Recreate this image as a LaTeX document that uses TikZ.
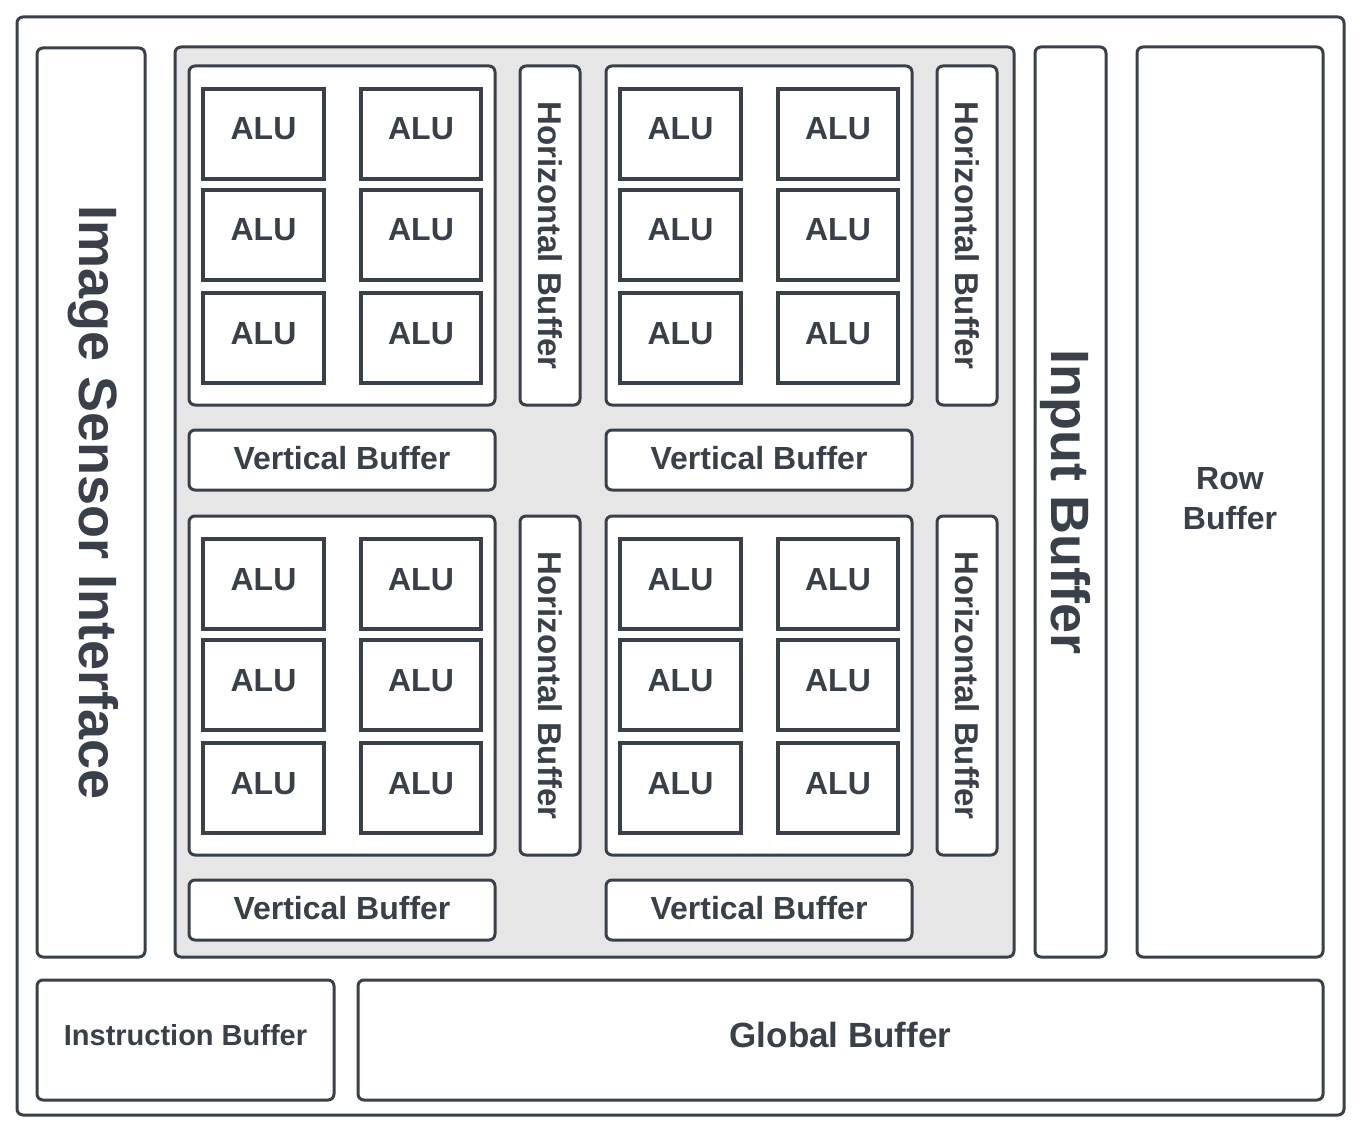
\documentclass[tikz,border=0pt]{standalone}
\usepackage{fontspec}
\setmainfont{Liberation Sans}
\definecolor{ink}{HTML}{3A4049}
\definecolor{panel}{HTML}{E6E6E6}
\begin{document}
\begin{tikzpicture}[x=1pt,y=-1pt,
  blk/.style={draw=ink, line width=3pt, rounded corners=6pt, fill=white, inner sep=0pt, outer sep=0pt,
    anchor=north west, text=ink, align=center, font=\bfseries\fontsize{32}{40}\selectfont},
  alu/.style={draw=ink, line width=3.6pt, fill=white, inner sep=0pt, outer sep=0pt,
    anchor=north west, text=ink, font=\bfseries\fontsize{32}{38}\selectfont,
    minimum width=121pt, minimum height=90pt, text height=12pt, text depth=0pt},
  big/.style={text=ink, font=\bfseries\fontsize{54}{60}\selectfont, rotate=-90},
  vlabel/.style={text=ink, rotate=-90, font=\bfseries\fontsize{33}{38}\selectfont}]
\path[fill=white,use as bounding box] (0,0) rectangle (1364,1131);
\node[blk, minimum width=1327pt, minimum height=1098pt] (outer) at (17,17) {};
\node[blk, minimum width=108pt, minimum height=909pt] (isi) at (37,48) {};
\node[big] (isit) at ([xshift=2pt]isi.center) {Image Sensor Interface};
\node[blk, fill=panel, minimum width=839pt, minimum height=910pt] (panel) at (175,47) {};
\node[blk, minimum width=71pt, minimum height=910pt] (inbuf) at (1035,47) {};
\node[big] (inbuft) at ([xshift=-5pt]inbuf.center) {Input Buffer};
\node[blk, minimum width=186pt, minimum height=910pt, text height=54pt, text depth=0pt] (rowbuf) at (1137,47) {Row\\Buffer};
\node[blk, minimum width=297pt, minimum height=120pt, text height=11pt, text depth=0pt,
  font=\bfseries\fontsize{29}{34}\selectfont] (instr) at (37,980) {Instruction Buffer};
\node[blk, minimum width=965pt, minimum height=120pt, text height=15pt, text depth=0pt,
  font=\bfseries\fontsize{35}{40}\selectfont] (global) at (358,980) {Global Buffer};
% clusters
\foreach \gx/\gy/\gn in {189/66/a, 606/66/b, 189/516/c, 606/516/d}{
  \node[blk, minimum width=306pt, minimum height=339pt] (grp-\gn) at (\gx,\gy) {};
  \node[blk, minimum width=306pt, minimum height=60pt, text height=19pt, text depth=0pt] (vb-\gn) at (\gx,\gy+364) {Vertical Buffer};
  \node[blk, minimum width=60pt, minimum height=339pt] (hb-\gn) at (\gx+331,\gy) {};
  \node[vlabel] (hbt-\gn) at (hb-\gn.center) {Horizontal Buffer};
  \foreach \r/\dy in {1/23, 2/124, 3/227}{
    \node[alu] (alu-\gn-\r-1) at (\gx+14,\gy+\dy) {ALU};
    \node[alu, minimum width=120pt] (alu-\gn-\r-2) at (\gx+172,\gy+\dy) {ALU};
  }
}
\end{tikzpicture}
\end{document}
